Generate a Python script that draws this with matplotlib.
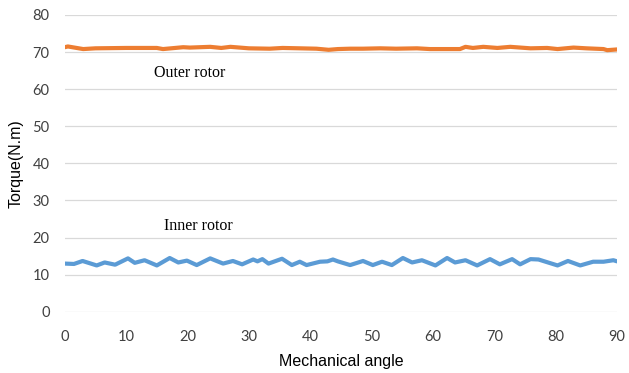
"""
Torque vs mechanical angle for inner and outer rotor
"""
import matplotlib
matplotlib.use('Agg')
import matplotlib.pyplot as plt

# Outer rotor torque (N.m)
outer_angle = [0, 0.5, 3, 5, 10, 15, 16, 19.3, 20.4, 23.7, 25.5, 27, 30, 33.4, 35.5,
               38.3, 41, 43, 44.5, 46.5, 48.6, 51.4, 54, 57.4, 59.5, 64.4, 65.3, 66.5,
               68.2, 70.5, 72.6, 75.9, 78.6, 80.3, 82.9, 85, 87.8, 88.4, 90]
outer_torque = [71.3, 71.5, 70.8, 71.0, 71.1, 71.1, 70.8, 71.3, 71.2, 71.4, 71.1, 71.4,
                71.0, 70.9, 71.1, 71.0, 70.9, 70.6, 70.8, 70.9, 70.9, 71.0, 70.9, 71.0,
                70.8, 70.8, 71.4, 71.1, 71.4, 71.1, 71.4, 71.0, 71.1, 70.8, 71.2, 71.0,
                70.8, 70.5, 70.7]

# Inner rotor torque (N.m)
inner_angle = [0, 1.5, 2.9, 5.2, 6.5, 8.2, 10.3, 11.4, 13.0, 15.0, 17.1, 18.5, 19.9,
               21.5, 23.7, 25.8, 27.4, 28.9, 30.7, 31.4, 32.2, 33.2, 35.4, 37.0, 38.3,
               39.4, 41.6, 42.8, 43.7, 44.5, 46.5, 48.6, 50.2, 51.7, 53.3, 55.1, 56.6,
               58.2, 60.4, 62.3, 63.6, 65.3, 67.2, 69.3, 70.9, 72.9, 74.2, 75.9, 77.2,
               80.3, 82.0, 84.0, 86.1, 87.8, 89.4, 90]
inner_torque = [13.0, 12.9, 13.7, 12.5, 13.3, 12.7, 14.4, 13.2, 13.9, 12.5, 14.5, 13.3,
                13.8, 12.6, 14.4, 13.0, 13.7, 12.8, 14.1, 13.6, 14.2, 13.0, 14.3, 12.6,
                13.5, 12.6, 13.5, 13.6, 14.1, 13.6, 12.6, 13.7, 12.6, 13.5, 12.6, 14.5,
                13.3, 13.9, 12.5, 14.5, 13.3, 13.9, 12.5, 14.2, 12.8, 14.2, 12.8, 14.2,
                14.1, 12.5, 13.7, 12.5, 13.5, 13.5, 13.9, 13.6]

x_ticks = list(range(0, 91, 10))
y_ticks = list(range(0, 81, 10))

fig = plt.figure(figsize=(6.29, 3.73), dpi=100)
ax = fig.add_axes([0.103, 0.164, 0.878, 0.796])

ax.plot(outer_angle, outer_torque, color='#ED7D31', linewidth=3, solid_joinstyle='round',
        solid_capstyle='round', zorder=3)
ax.plot(inner_angle, inner_torque, color='#5B9BD5', linewidth=3, solid_joinstyle='round',
        solid_capstyle='round', zorder=3)

ax.set_xlim(0, 90)
ax.set_ylim(0, 80)
ax.set_xticks(x_ticks)
ax.set_yticks(y_ticks)
ax.grid(axis='y', color='#d9d9d9', linewidth=0.9)
ax.set_axisbelow(True)
for s in ax.spines.values():
    s.set_visible(False)
ax.tick_params(axis='x', pad=13)
ax.tick_params(length=0, labelsize=10.5, labelcolor='#404040')
ax.tick_params(axis='y', pad=11)
for lab in ax.get_xticklabels() + ax.get_yticklabels():
    lab.set_fontfamily('Lato')

ax.set_xlabel('Mechanical angle', fontsize=11.5, family='Liberation Sans', labelpad=7)
ax.set_ylabel('Torque(N.m)', fontsize=11.5, family='Liberation Sans', labelpad=6)

ax.text(14.6, 64.4, 'Outer rotor', family='Liberation Serif', fontsize=11.5, va='center')
ax.text(16.2, 23.0, 'Inner rotor', family='Liberation Serif', fontsize=11.5, va='center')

fig.savefig('out.png', dpi=100)
plt.close(fig)
